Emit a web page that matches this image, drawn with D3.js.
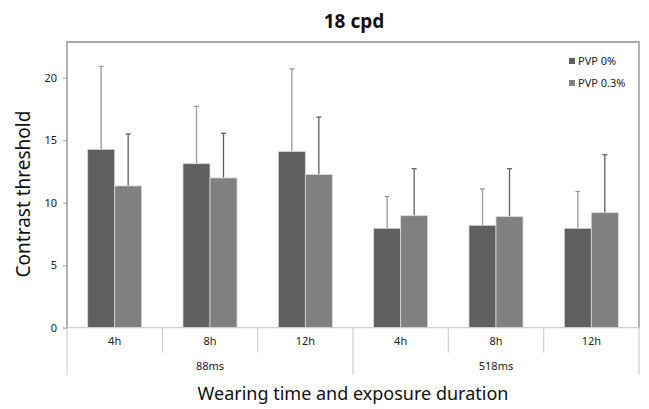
<!DOCTYPE html>
<html>
<head>
<meta charset="utf-8">
<script src="https://cdn.jsdelivr.net/npm/d3@7"></script>
<style>
  body { margin: 0; background: #fff; }
  svg text { font-family: "Noto Sans", "Open Sans", sans-serif; }
</style>
</head>
<body>
<svg id="chart" width="649" height="409"></svg>
<script>
'use strict';

/* chart data */
var hours = ['4h', '8h', '12h', '4h', '8h', '12h'];
var durations = ['88ms', '518ms'];
var seriesNames = ['PVP 0%', 'PVP 0.3%'];
var pvp0 = [14.27, 13.12, 14.1, 7.95, 8.19, 7.95];
var pvp0Err = [6.63, 4.58, 6.6, 2.55, 2.91, 2.95];
var pvp03 = [11.34, 11.98, 12.25, 8.96, 8.88, 9.2];
var pvp03Err = [4.16, 3.57, 4.6, 3.76, 3.84, 4.64];
var yTicks = [0, 5, 10, 15, 20];

(function(){
  var svg = d3.select('#chart');
  var plotLeft = 67, plotRight = 639, plotTop = 42, zeroY = 327.7, plotBottom = 375;

  /* y scale: 20 sits at y=77.7 */
  var y = d3.scaleLinear().domain([0, 20]).range([zeroY, 77.7]);

  /* one band per sub category */
  var x = d3.scaleBand()
    .domain(d3.range(hours.length))
    .range([plotLeft, plotRight])
    .paddingInner(0)
    .paddingOuter(0);
  /* two bars per band, about 27px each, centred */
  var inner = d3.scaleBand()
    .domain([0, 1])
    .range([0, x.bandwidth()])
    .paddingInner(0)
    .paddingOuter(0.765);

  var colors = ['#5f5f5f', '#808080'];
  var whisker = ['#9a9a9a', '#606060'];

  /* title */
  svg.append('text')
    .attr('x', 354).attr('y', 28)
    .attr('text-anchor', 'middle')
    .attr('font-size', 19).attr('font-weight', 'bold')
    .attr('fill', '#111')
    .text('18 cpd');

  /* y axis ticks and labels */
  var yAxis = d3.axisLeft(y).tickValues(yTicks).tickSize(4).tickPadding(6);
  var gy = svg.append('g')
    .attr('transform', 'translate(' + plotLeft + ',0)')
    .call(yAxis);
  gy.select('.domain').remove();
  gy.selectAll('.tick line').attr('stroke', '#a0a0a0');
  gy.selectAll('.tick text')
    .attr('font-size', 11).attr('fill', '#222')
    .style('font-family', '"Noto Sans", sans-serif');

  /* y title */
  svg.append('text')
    .attr('transform', 'translate(30,194) rotate(-90)')
    .attr('text-anchor', 'middle')
    .attr('font-size', 19).attr('fill', '#111')
    .text('Contrast threshold');

  /* bars and error bars */
  var series = [
    { vals: pvp0, errs: pvp0Err },
    { vals: pvp03, errs: pvp03Err }
  ];
  series.forEach(function(s, si){
    var g = svg.append('g');
    var data = s.vals.map(function(v, i){ return { i: i, v: v, e: s.errs[i] }; });
    var cx = function(d){ return x(d.i) + inner(si) + inner.bandwidth() / 2; };
    /* error bars first, bars on top */
    g.selectAll('line.err').data(data).enter().append('line')
      .attr('class', 'err')
      .attr('x1', cx).attr('x2', cx)
      .attr('y1', function(d){ return y(d.v); })
      .attr('y2', function(d){ return y(d.v + d.e); })
      .attr('stroke', whisker[si]).attr('stroke-width', 1.3);
    g.selectAll('line.cap').data(data).enter().append('line')
      .attr('class', 'cap')
      .attr('x1', function(d){ return cx(d) - 2.5; })
      .attr('x2', function(d){ return cx(d) + 2.5; })
      .attr('y1', function(d){ return y(d.v + d.e); })
      .attr('y2', function(d){ return y(d.v + d.e); })
      .attr('stroke', whisker[si]).attr('stroke-width', 1.3);
    g.selectAll('rect').data(data).enter().append('rect')
      .attr('x', function(d){ return x(d.i) + inner(si); })
      .attr('y', function(d){ return y(d.v); })
      .attr('width', inner.bandwidth())
      .attr('height', function(d){ return zeroY - y(d.v); })
      .attr('fill', colors[si])
      .attr('stroke', '#d8d8d8').attr('stroke-width', 0.8);
  });

  /* category axis: baseline, separators and labels */
  var axisColor = '#cfcfcf';
  svg.append('line')
    .attr('x1', plotLeft - 4).attr('x2', plotRight)
    .attr('y1', zeroY).attr('y2', zeroY)
    .attr('stroke', axisColor).attr('stroke-width', 1.2);
  svg.selectAll('line.sep').data(d3.range(hours.length + 1)).enter().append('line')
    .attr('class', 'sep')
    .attr('x1', function(d){ return plotLeft + d * x.bandwidth(); })
    .attr('x2', function(d){ return plotLeft + d * x.bandwidth(); })
    .attr('y1', zeroY)
    .attr('y2', function(d){ return d % 3 === 0 ? plotBottom : zeroY + 25; })
    .attr('stroke', axisColor).attr('stroke-width', 1.2);
  svg.selectAll('text.hour').data(hours).enter().append('text')
    .attr('class', 'hour')
    .attr('x', function(d, i){ return x(i) + x.bandwidth() / 2; })
    .attr('y', zeroY + 17)
    .attr('text-anchor', 'middle')
    .attr('font-size', 11).attr('fill', '#222')
    .text(function(d){ return d; });
  svg.selectAll('text.dur').data(durations).enter().append('text')
    .attr('class', 'dur')
    .attr('x', function(d, i){ return x(i * 3) + x.bandwidth() * 1.5; })
    .attr('y', zeroY + 42)
    .attr('text-anchor', 'middle')
    .attr('font-size', 11).attr('fill', '#222')
    .text(function(d){ return d; });

  /* plot frame (top, left, right edges) */
  svg.append('path')
    .attr('d', 'M' + plotLeft + ',' + zeroY + 'V' + plotTop + 'H' + plotRight + 'V' + zeroY)
    .attr('fill', 'none').attr('stroke', '#8a8a8a').attr('stroke-width', 1.3);

  /* x title */
  svg.append('text')
    .attr('x', 353).attr('y', 400)
    .attr('text-anchor', 'middle')
    .attr('font-size', 18).attr('fill', '#111')
    .text('Wearing time and exposure duration');

  /* legend */
  var legend = svg.append('g').attr('transform', 'translate(569,0)');
  seriesNames.forEach(function(name, i){
    legend.append('rect')
      .attr('x', 0).attr('y', 58 + i * 22)
      .attr('width', 6).attr('height', 6)
      .attr('fill', colors[i]);
    legend.append('text')
      .attr('x', 9).attr('y', 65 + i * 22)
      .attr('font-size', 11).attr('fill', '#222')
      .text(name);
  });
})();
</script>
</body>
</html>
